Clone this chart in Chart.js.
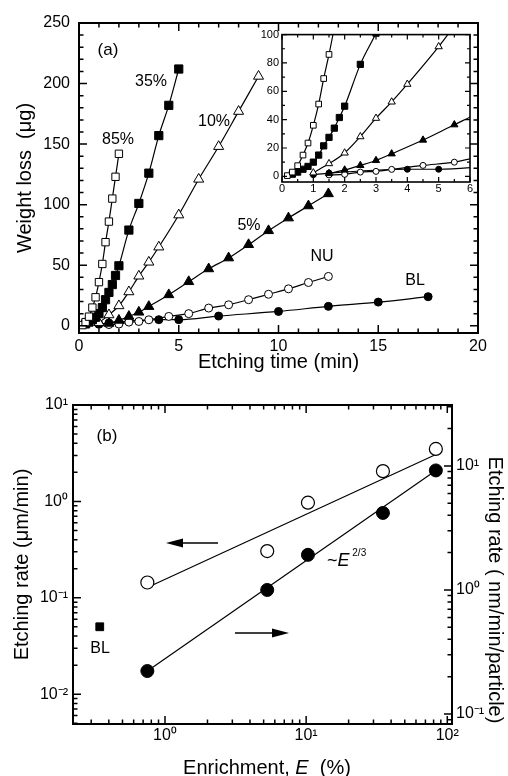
<!DOCTYPE html>
<html>
<head>
<meta charset="utf-8">
<script src="https://cdn.jsdelivr.net/npm/chart.js@4.4.1/dist/chart.umd.min.js"></script>
<style>
  html, body { margin: 0; padding: 0; background: #fff; }
  #wrap { position: relative; width: 508px; height: 776px; }
  canvas { position: absolute; }
</style>
</head>
<body>
<div id="wrap">
  <canvas id="chartA" width="508" height="380" style="left:0;top:0"></canvas>
  <canvas id="chartIn" width="226" height="172" style="left:250px;top:25px"></canvas>
  <canvas id="chartB" width="508" height="396" style="left:0;top:380px"></canvas>
</div>
<script>
// (a) weight loss vs etching time, one pair of arrays per sample
const t85 = [0.17, 0.33, 0.5, 0.67, 0.83, 1.0, 1.17, 1.33, 1.5, 1.67, 1.83, 2.0];
const w85 = [0.5, 3, 7.5, 15, 23.5, 36, 51, 69, 86, 105, 123, 142];
const t35 = [0.33, 0.5, 0.67, 0.83, 1.0, 1.17, 1.33, 1.5, 1.67, 1.83, 2.0, 2.5, 3.0, 3.5, 4.0, 4.5, 5.0];
const w35 = [1.5, 3, 5, 7, 10, 15, 21.5, 27.5, 34, 41.5, 49.5, 79, 101, 126, 157, 182, 212];
const t10 = [1.0, 1.5, 2.0, 2.5, 3.0, 3.5, 4.0, 5.0, 6.0, 7.0, 8.0, 9.0];
const w10 = [2.5, 9, 16.5, 28, 41, 52.5, 65, 91.5, 121, 148, 177, 206];
const t5 = [1.5, 2.0, 2.5, 3.0, 3.5, 4.5, 5.5, 6.5, 7.5, 8.5, 9.5, 10.5, 11.5, 12.5];
const w5 = [2, 4.5, 7.7, 11.2, 15.9, 25.6, 36.4, 47, 56, 67, 78.5, 89, 99, 109];
const tNU = [1.5, 2.0, 2.5, 3.0, 3.5, 4.5, 5.5, 6.5, 7.5, 8.5, 9.5, 10.5, 11.5, 12.5];
const wNU = [1, 1.4, 3, 3.5, 4.9, 7.7, 10, 14.6, 17.3, 21.5, 26, 30.5, 35.7, 40.7];
const tBL = [1.0, 1.5, 4.0, 5.0, 7.0, 10.0, 12.5, 15.0, 17.5];
const wBL = [1.2, 2.3, 5, 5, 8, 11.8, 16, 19.5, 24];

// (b) etching rate vs enrichment
const enrich = [0.75, 5.3, 10.3, 35, 83];
const rateUm = [0.144, 0.305, 0.97, 2.06, 3.5];     // open circles, left axis
const rateNm = [0.222, 1.0, 1.92, 4.18, 9.2];       // filled circles, right axis
const fitUmE = [0.75, 83], fitUm = [0.128, 3.07];
const fitNmE = [0.75, 83], fitNm = [0.222, 9.2];
const blE = [0.345], blRate = [0.05];

// tick labels
const xTicksA = [0, 5, 10, 15, 20];
const yTicksA = [0, 50, 100, 150, 200, 250];
const xTicksIn = [0, 1, 2, 3, 4, 5, 6];
const yTicksIn = [0, 20, 40, 60, 80, 100];
const xTicksB = [1, 10, 100];
const yTicksB = [0.01, 0.1, 1, 10];
const y2TicksB = [0.1, 1, 10];

const FONT = "'Liberation Sans', Arial, Helvetica, sans-serif";
Chart.defaults.font.family = FONT;
Chart.defaults.color = '#000';

function steps(a, b, s) { const r = []; for (let v = a; v <= b + 1e-9; v += s) r.push(+v.toFixed(4)); return r; }
function logMinor(e0, e1) { const r = []; for (let e = e0; e <= e1; e++) for (let k = 2; k <= 9; k++) r.push(k * Math.pow(10, e)); return r; }
function pts(xs, ys) { return xs.map((x, i) => ({ x: x, y: ys[i] })); }

const sup = { '-': '\u207B', '0': '\u2070', '1': '\u00B9', '2': '\u00B2', '3': '\u00B3' };
function pow10(v) {
  const e = Math.round(Math.log10(v));
  return '10' + String(e).split('').map(c => sup[c]).join('');
}

function series(xs, ys, style, filled, r) {
  return {
    data: pts(xs, ys), showLine: true, borderColor: '#000', borderWidth: 1.2,
    cubicInterpolationMode: 'monotone',
    pointStyle: style, pointRadius: r, pointHoverRadius: r,
    pointBackgroundColor: filled ? '#000' : '#fff', pointBorderColor: '#000', pointBorderWidth: 1
  };
}

// frame + inward ticks on all sides
function frameTicks(cfg) {
  return {
    id: 'frameTicks',
    beforeDatasetsDraw(chart) {
      if (!cfg.fill) return;
      const a = chart.chartArea;
      chart.ctx.save();
      chart.ctx.fillStyle = '#fff';
      chart.ctx.fillRect(a.left, a.top, a.width, a.height);
      chart.ctx.restore();
    },
    afterDatasetsDraw(chart) {
      const ctx = chart.ctx, a = chart.chartArea;
      ctx.save();
      ctx.strokeStyle = '#000';
      ctx.lineWidth = cfg.tickWidth;
      ctx.beginPath();
      cfg.marks.forEach(m => {
        const sc = chart.scales[m.scale];
        const mark = (v, len) => {
          const p = sc.getPixelForValue(v);
          m.sides.forEach(side => {
            if (side === 'bottom' || side === 'top') {
              if (p < a.left - 0.5 || p > a.right + 0.5) return;
              const y0 = side === 'bottom' ? a.bottom : a.top;
              ctx.moveTo(p, y0); ctx.lineTo(p, side === 'bottom' ? y0 - len : y0 + len);
            } else {
              if (p < a.top - 0.5 || p > a.bottom + 0.5) return;
              const x0 = side === 'left' ? a.left : a.right;
              ctx.moveTo(x0, p); ctx.lineTo(side === 'left' ? x0 + len : x0 - len, p);
            }
          });
        };
        m.major.forEach(v => mark(v, cfg.majorLen));
        m.minor.forEach(v => mark(v, cfg.minorLen));
      });
      ctx.stroke();
      ctx.lineWidth = cfg.width;
      ctx.strokeRect(a.left, a.top, a.width, a.height);
      ctx.restore();
    }
  };
}

// free text and arrows
function notes(items) {
  return {
    id: 'notes',
    afterDraw(chart) {
      const ctx = chart.ctx;
      items.forEach(it => {
        ctx.save();
        ctx.fillStyle = '#000';
        ctx.strokeStyle = '#000';
        if (it.arrow) {
          const [x1, y1, x2, y2] = it.arrow;
          const dir = Math.sign(x2 - x1);
          ctx.lineWidth = 1.5;
          ctx.beginPath(); ctx.moveTo(x1, y1); ctx.lineTo(x2 - dir * 14, y2); ctx.stroke();
          ctx.beginPath();
          ctx.moveTo(x2, y2); ctx.lineTo(x2 - dir * 17, y2 - 4.5); ctx.lineTo(x2 - dir * 17, y2 + 4.5);
          ctx.closePath(); ctx.fill();
          ctx.restore();
          return;
        }
        ctx.translate(it.x, it.y);
        if (it.rot) ctx.rotate(it.rot);
        ctx.textBaseline = 'middle';
        ctx.textAlign = 'left';
        const parts = it.parts || [{ t: it.text, f: it.font }];
        let w = 0;
        parts.forEach(p => { ctx.font = p.f; w += ctx.measureText(p.t).width; });
        let x = it.align === 'left' ? 0 : -w / 2;
        parts.forEach(p => {
          ctx.font = p.f;
          ctx.fillText(p.t, x, p.dy || 0);
          x += ctx.measureText(p.t).width;
        });
        ctx.restore();
      });
    }
  };
}

function axis(min, max, ticks, fit, pad, size, extra) {
  return Object.assign({
    type: 'linear', min: min, max: max,
    afterBuildTicks: s => { s.ticks = ticks.map(v => ({ value: v })); },
    afterFit: fit,
    grid: { display: false, drawTicks: false },
    border: { display: false },
    ticks: { padding: pad, font: { size: size }, maxRotation: 0, autoSkip: false }
  }, extra || {});
}

// ---------- (a) main ----------
new Chart(document.getElementById('chartA'), {
  type: 'scatter',
  data: {
    datasets: [
      series(t85, w85, 'rect', false, 5.2),
      series(t35, w35, 'rect', true, 5.8),
      series(t10, w10, 'triangle', false, 5.8),
      series(t5, w5, 'triangle', true, 5.8),
      series(tNU, wNU, 'circle', false, 4),
      series(tBL, wBL, 'circle', true, 4)
    ]
  },
  options: {
    responsive: false, animation: false, devicePixelRatio: 1,
    layout: { padding: { top: 23, right: 30, left: 0, bottom: 0 } },
    plugins: { legend: { display: false }, tooltip: { enabled: false } },
    scales: {
      x: axis(0, 20, xTicksA, s => { s.height = 47; }, 4, 16, {
        title: { display: true, text: 'Etching time (min)', font: { size: 20 }, padding: { top: 0, bottom: 6 } }
      }),
      y: axis(-6, 250, yTicksA, s => { s.width = 79; }, 9, 16, {
        title: { display: true, text: 'Weight loss  (\u03BCg)', font: { size: 20 }, padding: { top: 13, bottom: 0 } }
      })
    }
  },
  plugins: [
    frameTicks({ width: 2, tickWidth: 1.5, majorLen: 8, minorLen: 4.5, marks: [
      { scale: 'x', sides: ['bottom', 'top'], major: xTicksA, minor: steps(0, 20, 1) },
      { scale: 'y', sides: ['left', 'right'], major: yTicksA, minor: steps(0, 250, 10) }
    ] }),
    notes([
      { text: '(a)', font: '17px ' + FONT, x: 108, y: 50 },
      { text: '35%', font: '16px ' + FONT, x: 151, y: 82 },
      { text: '85%', font: '16px ' + FONT, x: 118, y: 140 },
      { text: '10%', font: '16px ' + FONT, x: 214, y: 122 },
      { text: '5%', font: '16px ' + FONT, x: 249, y: 226 },
      { text: 'NU', font: '16px ' + FONT, x: 322, y: 257 },
      { text: 'BL', font: '16px ' + FONT, x: 415, y: 281 }
    ])
  ]
});

// ---------- (a) inset ----------
new Chart(document.getElementById('chartIn'), {
  type: 'scatter',
  data: {
    datasets: [
      series(t85, w85, 'rect', false, 4),
      series(t35, w35, 'rect', true, 4.4),
      series(t10, w10, 'triangle', false, 4.2),
      series(t5, w5, 'triangle', true, 4.2),
      series(tNU, wNU, 'circle', false, 3),
      series(tBL, wBL, 'circle', true, 3)
    ]
  },
  options: {
    responsive: false, animation: false, devicePixelRatio: 1,
    layout: { padding: { top: 8, right: 6, left: 0, bottom: 0 } },
    plugins: { legend: { display: false }, tooltip: { enabled: false } },
    scales: {
      x: axis(0, 6, xTicksIn, s => { s.height = 15; }, 0, 11),
      y: axis(-4, 100, yTicksIn, s => { s.width = 32; }, 3, 11)
    }
  },
  plugins: [
    frameTicks({ fill: true, width: 1.6, tickWidth: 1.2, majorLen: 5, minorLen: 3, marks: [
      { scale: 'x', sides: ['bottom', 'top'], major: xTicksIn, minor: steps(0, 6, 0.5) },
      { scale: 'y', sides: ['left', 'right'], major: yTicksIn, minor: steps(0, 100, 10) }
    ] })
  ]
});

// ---------- (b) ----------
function logAxis(min, max, ticks, fit, pad, extra) {
  return Object.assign(axis(min, max, ticks, fit, pad, 16), { type: 'logarithmic' }, extra || {});
}
const bx = logAxis(0.223, 108, xTicksB, s => { s.height = 52; }, 2);
const by = logAxis(0.0049, 10, yTicksB, s => { s.width = 73; }, 5, {
  title: { display: true, text: 'Etching rate (\u03BCm/min)', font: { size: 20 }, padding: { top: 10, bottom: 0 } }
});
const by2 = logAxis(0.083, 31, y2TicksB, s => { s.width = 56; }, 4, { position: 'right' });
[bx, by, by2].forEach(a => { a.ticks.callback = v => pow10(v); });

new Chart(document.getElementById('chartB'), {
  type: 'scatter',
  data: {
    datasets: [
      { data: pts(enrich, rateUm), yAxisID: 'y', pointStyle: 'circle', pointRadius: 6.5,
        pointBackgroundColor: '#fff', pointBorderColor: '#000', pointBorderWidth: 1.2 },
      { data: pts(enrich, rateNm), yAxisID: 'y2', pointStyle: 'circle', pointRadius: 6.5,
        pointBackgroundColor: '#000', pointBorderColor: '#000', pointBorderWidth: 1 },
      { data: pts(fitUmE, fitUm), yAxisID: 'y', showLine: true, pointRadius: 0, borderColor: '#000', borderWidth: 1.2 },
      { data: pts(fitNmE, fitNm), yAxisID: 'y2', showLine: true, pointRadius: 0, borderColor: '#000', borderWidth: 1.2 },
      { data: pts(blE, blRate), yAxisID: 'y', pointStyle: 'rect', pointRadius: 5.5,
        pointBackgroundColor: '#000', pointBorderColor: '#000' }
    ]
  },
  options: {
    responsive: false, animation: false, devicePixelRatio: 1,
    layout: { padding: { top: 25, right: 0, left: 0, bottom: 0 } },
    plugins: { legend: { display: false }, tooltip: { enabled: false } },
    scales: { x: bx, y: by, y2: by2 }
  },
  plugins: [
    frameTicks({ width: 2, tickWidth: 1.5, majorLen: 8, minorLen: 4.5, marks: [
      { scale: 'x', sides: ['bottom', 'top'], major: xTicksB, minor: logMinor(-1, 1) },
      { scale: 'y', sides: ['left'], major: yTicksB, minor: logMinor(-3, 0) },
      { scale: 'y2', sides: ['right'], major: y2TicksB, minor: logMinor(-2, 1) }
    ] }),
    notes([
      { text: '(b)', font: '17px ' + FONT, x: 107, y: 56 },
      { text: 'BL', font: '16px ' + FONT, x: 100, y: 269 },
      { x: 327, y: 181, align: 'left', parts: [
        { t: '~', f: '18px ' + FONT }, { t: 'E', f: 'italic 18px ' + FONT },
        { t: ' 2/3', f: '10px ' + FONT, dy: -8 }
      ] },
      { arrow: [218, 163, 166, 163] },
      { arrow: [235, 253, 289, 253] },
      { text: 'Etching rate ( nm/min/particle)', font: '20px ' + FONT, x: 495, y: 210, rot: Math.PI / 2 },
      { x: 267, y: 388, parts: [
        { t: 'Enrichment, ', f: '20px ' + FONT }, { t: 'E', f: 'italic 20px ' + FONT },
        { t: '  (%)', f: '20px ' + FONT }
      ] }
    ])
  ]
});
</script>
</body>
</html>
